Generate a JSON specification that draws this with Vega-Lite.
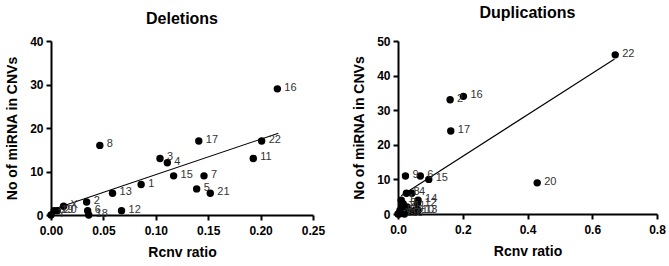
{
  "$schema": "https://vega.github.io/schema/vega-lite/v6.json",
  "background": "white",
  "padding": {"left": 5, "top": 5, "right": 5, "bottom": 5},
  "spacing": 27,
  "config": {
    "view": {"stroke": null},
    "font": "Liberation Sans",
    "axis": {
      "grid": false,
      "domainColor": "black",
      "domainWidth": 2,
      "tickColor": "black",
      "tickWidth": 2,
      "tickSize": 5,
      "labelFont": "Liberation Sans",
      "labelFontWeight": "bold",
      "labelFontSize": 12,
      "labelColor": "black",
      "labelPadding": 3,
      "titleFont": "Liberation Sans",
      "titleFontWeight": "bold",
      "titleFontSize": 14,
      "titleColor": "black",
      "labelFlush": false
    },
    "axisX": {"labelPadding": 5},
    "title": {"font": "Liberation Sans", "fontSize": 16, "fontWeight": "bold", "color": "black"}
  },
  "datasets": {
    "del": [
      {"chr": "1", "ratio": 0.086, "mirna": 7},
      {"chr": "2", "ratio": 0.034, "mirna": 3},
      {"chr": "3", "ratio": 0.104, "mirna": 13},
      {"chr": "4", "ratio": 0.111, "mirna": 12},
      {"chr": "5", "ratio": 0.139, "mirna": 6},
      {"chr": "6", "ratio": 0.035, "mirna": 1},
      {"chr": "7", "ratio": 0.146, "mirna": 9},
      {"chr": "8", "ratio": 0.0466, "mirna": 16},
      {"chr": "11", "ratio": 0.193, "mirna": 13},
      {"chr": "12", "ratio": 0.0673, "mirna": 1},
      {"chr": "13", "ratio": 0.0587, "mirna": 5},
      {"chr": "15", "ratio": 0.117, "mirna": 9},
      {"chr": "16", "ratio": 0.216, "mirna": 29},
      {"chr": "17", "ratio": 0.141, "mirna": 17},
      {"chr": "18", "ratio": 0.036, "mirna": 0},
      {"chr": "21", "ratio": 0.152, "mirna": 5},
      {"chr": "22", "ratio": 0.201, "mirna": 17},
      {"chr": "X", "ratio": 0.012, "mirna": 2},
      {"chr": "20", "ratio": 0.006, "mirna": 1},
      {"chr": "19", "ratio": 0.003, "mirna": 1},
      {"chr": "Y", "ratio": 0.0, "mirna": 0}
    ],
    "delLine": [
      {"ratio": 0.003, "mirna": 1.4},
      {"ratio": 0.217, "mirna": 18.8}
    ],
    "dup": [
      {"chr": "22", "ratio": 0.671, "mirna": 46},
      {"chr": "16", "ratio": 0.202, "mirna": 34},
      {"chr": "2", "ratio": 0.161, "mirna": 33},
      {"chr": "17", "ratio": 0.163, "mirna": 24},
      {"chr": "20", "ratio": 0.43, "mirna": 9},
      {"chr": "15", "ratio": 0.095, "mirna": 10},
      {"chr": "6", "ratio": 0.069, "mirna": 11},
      {"chr": "9", "ratio": 0.023, "mirna": 11},
      {"chr": "8", "ratio": 0.026, "mirna": 6},
      {"chr": "4", "ratio": 0.043, "mirna": 6},
      {"chr": "14", "ratio": 0.062, "mirna": 4},
      {"chr": "12", "ratio": 0.06, "mirna": 3},
      {"chr": "1", "ratio": 0.01, "mirna": 4},
      {"chr": "3", "ratio": 0.016, "mirna": 3},
      {"chr": "5", "ratio": 0.006, "mirna": 1},
      {"chr": "7", "ratio": 0.035, "mirna": 1},
      {"chr": "10", "ratio": 0.052, "mirna": 1},
      {"chr": "11", "ratio": 0.028, "mirna": 2},
      {"chr": "13", "ratio": 0.062, "mirna": 1},
      {"chr": "18", "ratio": 0.02, "mirna": 0},
      {"chr": "19", "ratio": 0.004, "mirna": 0},
      {"chr": "X", "ratio": 0.012, "mirna": 2},
      {"chr": "Y", "ratio": 0.0, "mirna": 0}
    ],
    "dupLine": [
      {"ratio": 0.01, "mirna": 5.3},
      {"ratio": 0.669, "mirna": 44.8}
    ]
  },
  "hconcat": [
    {
      "width": 262,
      "height": 174,
      "title": {"text": "Deletions", "offset": 8},
      "encoding": {
        "x": {"field": "ratio", "type": "quantitative", "scale": {"domain": [0, 0.25], "nice": false, "zero": true}, "axis": {"values": [0, 0.05, 0.1, 0.15, 0.2, 0.25], "format": ".2f", "title": "Rcnv ratio", "titlePadding": 9}},
        "y": {"field": "mirna", "type": "quantitative", "scale": {"domain": [0, 40], "nice": false}, "axis": {"values": [0, 10, 20, 30, 40], "title": "No of miRNA in CNVs", "titlePadding": 10}}
      },
      "layer": [
        {"data": {"name": "delLine"}, "mark": {"type": "line", "color": "black", "strokeWidth": 1.1}},
        {"data": {"name": "del"}, "mark": {"type": "circle", "size": 55, "color": "black", "opacity": 1}},
        {"data": {"name": "del"}, "mark": {"type": "text", "align": "left", "baseline": "middle", "dx": 7, "dy": -1, "fontSize": 11, "color": "#333"}, "encoding": {"text": {"field": "chr"}}}
      ]
    },
    {
      "width": 259,
      "height": 173,
      "title": {"text": "Duplications", "offset": 14},
      "encoding": {
        "x": {"field": "ratio", "type": "quantitative", "scale": {"domain": [0, 0.8], "nice": false}, "axis": {"values": [0, 0.2, 0.4, 0.6, 0.8], "format": ".1f", "title": "Rcnv ratio", "titlePadding": 9}},
        "y": {"field": "mirna", "type": "quantitative", "scale": {"domain": [0, 50], "nice": false}, "axis": {"values": [0, 10, 20, 30, 40, 50], "title": "No of miRNA in CNVs", "titlePadding": 10}}
      },
      "layer": [
        {"data": {"name": "dupLine"}, "mark": {"type": "line", "color": "black", "strokeWidth": 1.1}},
        {"data": {"name": "dup"}, "mark": {"type": "circle", "size": 55, "color": "black", "opacity": 1}},
        {"data": {"name": "dup"}, "mark": {"type": "text", "align": "left", "baseline": "middle", "dx": 7, "dy": -1, "fontSize": 11, "color": "#333"}, "encoding": {"text": {"field": "chr"}}}
      ]
    }
  ]
}
